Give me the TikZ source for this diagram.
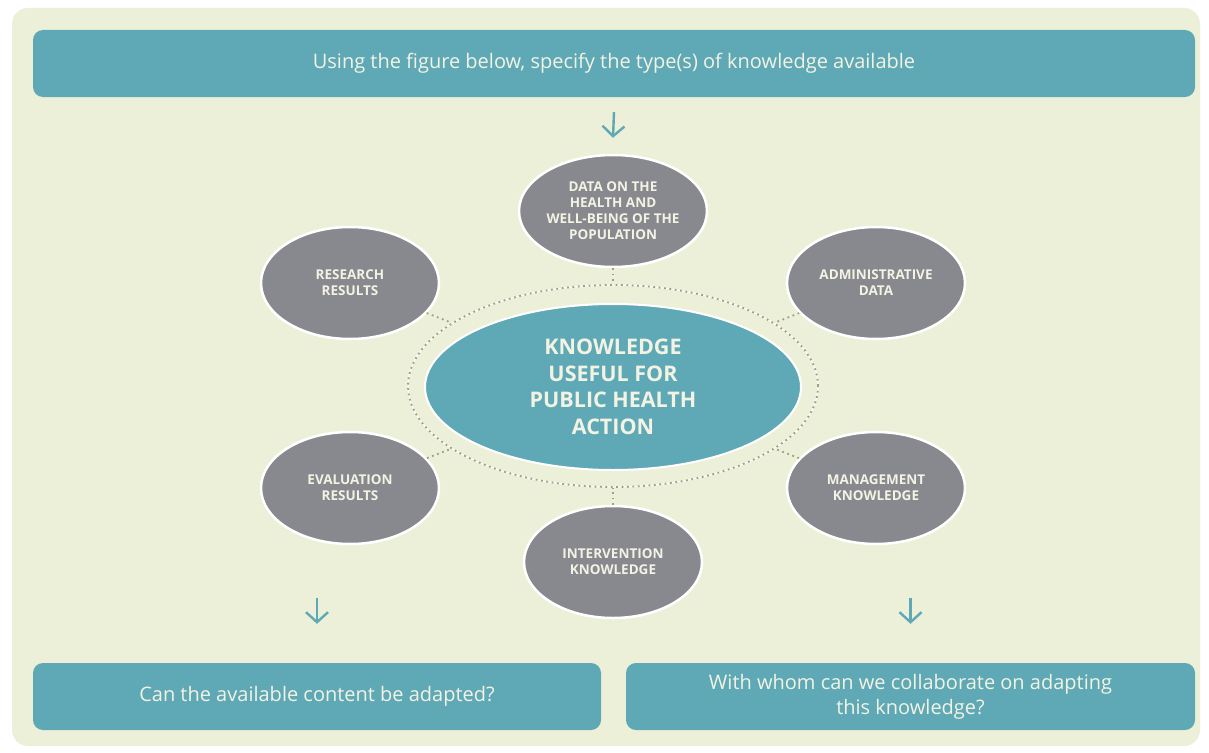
\documentclass[tikz,border=0pt]{standalone}
\usepackage{fontspec}
\setmainfont{Open Sans}
\usetikzlibrary{shapes.geometric,arrows.meta}

\definecolor{panelbg}{HTML}{EDF0D8}
\definecolor{tealbox}{HTML}{5FA9B6}
\definecolor{ovalgray}{HTML}{88888F}
\definecolor{boxtext}{HTML}{F3F3E4}
\definecolor{dotcol}{HTML}{A59C88}

\begin{document}
\begin{tikzpicture}[x=1pt, y=-1pt,
    bar/.style={rectangle, rounded corners=10pt, fill=tealbox, text=boxtext,
        font=\fontsize{20}{25}\selectfont, align=center, minimum height=67pt},
    oval/.style={ellipse, fill=ovalgray, draw=white, line width=2.5pt,
        minimum width=178pt, minimum height=112pt, inner sep=0pt, text=boxtext,
        font=\bfseries\fontsize{13.5}{16}\selectfont, align=center},
    dots/.style={draw=dotcol, line width=1.8pt, dash pattern=on 1.8pt off 3.6pt},
    down/.style={-{Straight Barb[length=10pt,width=22pt]}, line width=2.4pt, tealbox}]

    \useasboundingbox (0,0) rectangle (1209,752);
    \fill [white] (0,0) rectangle (1209,752);
    \fill [panelbg, rounded corners=16pt] (12,8) rectangle (1200,746);

    \node [bar, minimum width=1162pt] (ask) at (614,63.5)
        {Using the figure below, specify the type(s) of knowledge available};
    \node [bar, minimum width=568pt] (adapt) at (317,696.5)
        {Can the available content be adapted?};
    \node [bar, minimum width=569pt] (partners) at (910.5,696.5)
        {With whom can we collaborate on adapting\\this knowledge?};

    \node [ellipse, draw=white, line width=1pt, minimum width=410pt, minimum height=202pt] (halo) at (613,386) {};
    \node [ellipse, dots, minimum width=410pt, minimum height=202pt] (ring) at (613,386) {};
    \node [ellipse, fill=tealbox, draw=white, line width=2pt, minimum width=376pt, minimum height=166pt,
        text=boxtext, font=\bfseries\fontsize{21.5}{26.5}\selectfont, align=center] (core) at (613,387)
        {KNOWLEDGE\\USEFUL FOR\\PUBLIC HEALTH\\ACTION};

    \foreach \nm/\px/\py/\txt in {
        popdata/613/211/{DATA ON THE\\HEALTH AND\\WELL-BEING OF THE\\POPULATION},
        research/350/283/{RESEARCH\\RESULTS},
        admin/876/283/{ADMINISTRATIVE\\DATA},
        evaluation/350/488/{EVALUATION\\RESULTS},
        management/876/488/{MANAGEMENT\\KNOWLEDGE},
        intervention/613/562/{INTERVENTION\\KNOWLEDGE}}
    {
        \node [oval] (\nm) at (\px,\py) {\txt};
        \draw [dots] (\nm) -- (ring);
    }

    \draw [down] ([yshift=-15pt]ask.south) -- ([yshift=16pt]popdata.north);
    \draw [down] ([yshift=65pt]adapt.north) -- ([yshift=39pt]adapt.north);
    \draw [down] ([yshift=65pt]partners.north) -- ([yshift=39pt]partners.north);

\end{tikzpicture}
\end{document}
